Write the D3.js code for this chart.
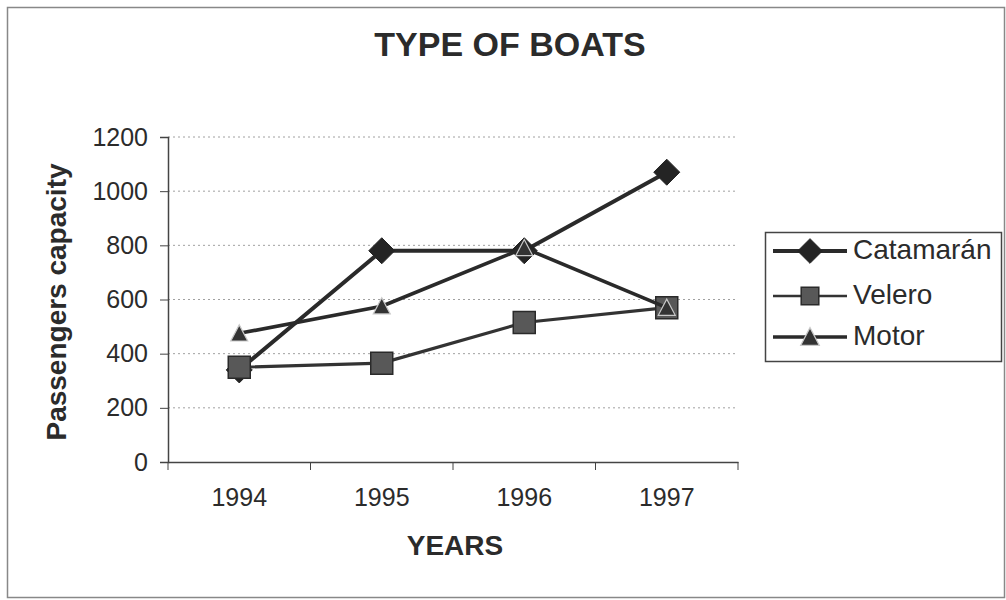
<!DOCTYPE html>
<html>
<head>
<meta charset="utf-8">
<script src="https://cdn.jsdelivr.net/npm/d3@7"></script>
<style>
  html, body { margin: 0; padding: 0; background: #fff; }
  svg { display: block; font-family: Arial, "Liberation Sans", Helvetica, sans-serif; }
</style>
</head>
<body>
<svg id="chart" width="1006" height="600"></svg>
<script>
// Passenger capacity by boat type, 1994-1997
const years = ["1994", "1995", "1996", "1997"];
const catamaran = [340, 780, 780, 1070];
const velero = [350, 365, 515, 570];
const motor = [475, 575, 790, 570];
const yTicks = [0, 200, 400, 600, 800, 1000, 1200];
const seriesNames = ["Catamarán", "Velero", "Motor"];

const ink = "#2b2b2b";
const svg = d3.select("#chart");

// outer frame
svg.append("rect")
  .attr("x", 7.5).attr("y", 7.5).attr("width", 997).attr("height", 590)
  .attr("fill", "#fff").attr("stroke", "#888").attr("stroke-width", 1.5);

const plot = { left: 168, right: 738, top: 137, bottom: 462 };

const x = d3.scaleBand().domain(years).range([plot.left, plot.right]).padding(0);
const y = d3.scaleLinear().domain([0, 1200]).range([plot.bottom, plot.top]);
const cx = d => x(d) + x.bandwidth() / 2;

// title
svg.append("text")
  .attr("x", 510).attr("y", 56)
  .attr("text-anchor", "middle")
  .attr("font-size", 34).attr("font-weight", "bold").attr("fill", ink)
  .text("TYPE OF BOATS");

// dotted gridlines
svg.append("g")
  .selectAll("line")
  .data(yTicks.filter(v => v > 0))
  .join("line")
  .attr("x1", plot.left).attr("x2", plot.right)
  .attr("y1", d => y(d)).attr("y2", d => y(d))
  .attr("stroke", "#a0a0a0").attr("stroke-width", 1)
  .attr("stroke-dasharray", "2,3");

// y axis
const yAxis = svg.append("g")
  .attr("transform", `translate(${plot.left},0)`)
  .call(d3.axisLeft(y).tickValues(yTicks).tickSize(8).tickPadding(12).tickFormat(d3.format("d")));
yAxis.select(".domain").attr("stroke", "#444").attr("stroke-width", 1.5);
yAxis.selectAll(".tick line").attr("stroke", "#444").attr("stroke-width", 1);
yAxis.selectAll(".tick text")
  .attr("font-size", 25).attr("fill", ink)
  .attr("font-family", "Arial, 'Liberation Sans', sans-serif");

// x axis: ticks sit between categories
const xAxis = svg.append("g")
  .attr("transform", `translate(0,${plot.bottom})`)
  .call(d3.axisBottom(x).tickSize(0).tickPadding(26));
xAxis.select(".domain").attr("stroke", "#444").attr("stroke-width", 1.5);
xAxis.selectAll(".tick text")
  .attr("font-size", 25).attr("fill", ink)
  .attr("font-family", "Arial, 'Liberation Sans', sans-serif");
xAxis.append("g")
  .selectAll("line")
  .data(years.map(d => x(d)).concat([plot.right]))
  .join("line")
  .attr("x1", d => d).attr("x2", d => d)
  .attr("y1", 0).attr("y2", 8)
  .attr("stroke", "#444").attr("stroke-width", 1);

// axis titles
svg.append("text")
  .attr("transform", "translate(66,302) rotate(-90)")
  .attr("text-anchor", "middle")
  .attr("font-size", 28).attr("font-weight", "bold").attr("fill", ink)
  .text("Passengers capacity");

svg.append("text")
  .attr("x", 455).attr("y", 555)
  .attr("text-anchor", "middle")
  .attr("font-size", 28).attr("font-weight", "bold").attr("fill", ink)
  .text("YEARS");

// marker shapes
function diamondPath(r) { return `M0,${-r}L${r},0L0,${r}L${-r},0Z`; }
function squarePath(h) { return `M${-h},${-h}H${h}V${h}H${-h}Z`; }
function trianglePath(h) { return `M0,${-h}L${h},${h * 0.9}L${-h},${h * 0.9}Z`; }

const series = [
  { name: seriesNames[0], values: catamaran, width: 4, lineColor: "#2a2a2a",
    marker: s => diamondPath(13 * s), fill: "#242424", stroke: "#242424", sw: 1 },
  { name: seriesNames[1], values: velero, width: 3.2, lineColor: "#333",
    marker: s => squarePath(11 * s), fill: "#585858", stroke: "#2a2a2a", sw: 1.5 },
  { name: seriesNames[2], values: motor, width: 3.6, lineColor: "#2a2a2a",
    marker: s => trianglePath(8.5 * s), fill: "#333", stroke: "#c8c8c8", sw: 1.2 }
];

const line = d3.line().x((d, i) => cx(years[i])).y(d => y(d));

series.forEach(s => {
  const g = svg.append("g");
  g.append("path")
    .attr("d", line(s.values))
    .attr("fill", "none")
    .attr("stroke", s.lineColor)
    .attr("stroke-width", s.width)
    .attr("stroke-linejoin", "round");
  g.selectAll("path.mk")
    .data(s.values)
    .join("path")
    .attr("class", "mk")
    .attr("transform", (d, i) => `translate(${cx(years[i])},${y(d)})`)
    .attr("d", s.marker(1))
    .attr("fill", s.fill)
    .attr("stroke", s.stroke)
    .attr("stroke-width", s.sw);
});

// legend
const legend = svg.append("g");
legend.append("rect")
  .attr("x", 765.5).attr("y", 232.5).attr("width", 236).attr("height", 129)
  .attr("fill", "#fff").attr("stroke", "#444").attr("stroke-width", 1.5);

const legendRows = [251, 296, 337];
const legendMarkerScale = [0.95, 0.8, 1.1];
series.forEach((s, i) => {
  const row = legend.append("g").attr("transform", `translate(0,${legendRows[i]})`);
  row.append("line")
    .attr("x1", 773).attr("x2", 847)
    .attr("stroke", s.lineColor).attr("stroke-width", i === 1 ? 2.6 : s.width);
  row.append("path")
    .attr("transform", "translate(810,0)")
    .attr("d", s.marker(legendMarkerScale[i]))
    .attr("fill", s.fill).attr("stroke", s.stroke).attr("stroke-width", s.sw);
  row.append("text")
    .attr("x", 853).attr("y", 8)
    .attr("font-size", 28).attr("fill", ink)
    .text(s.name);
});
</script>
</body>
</html>
